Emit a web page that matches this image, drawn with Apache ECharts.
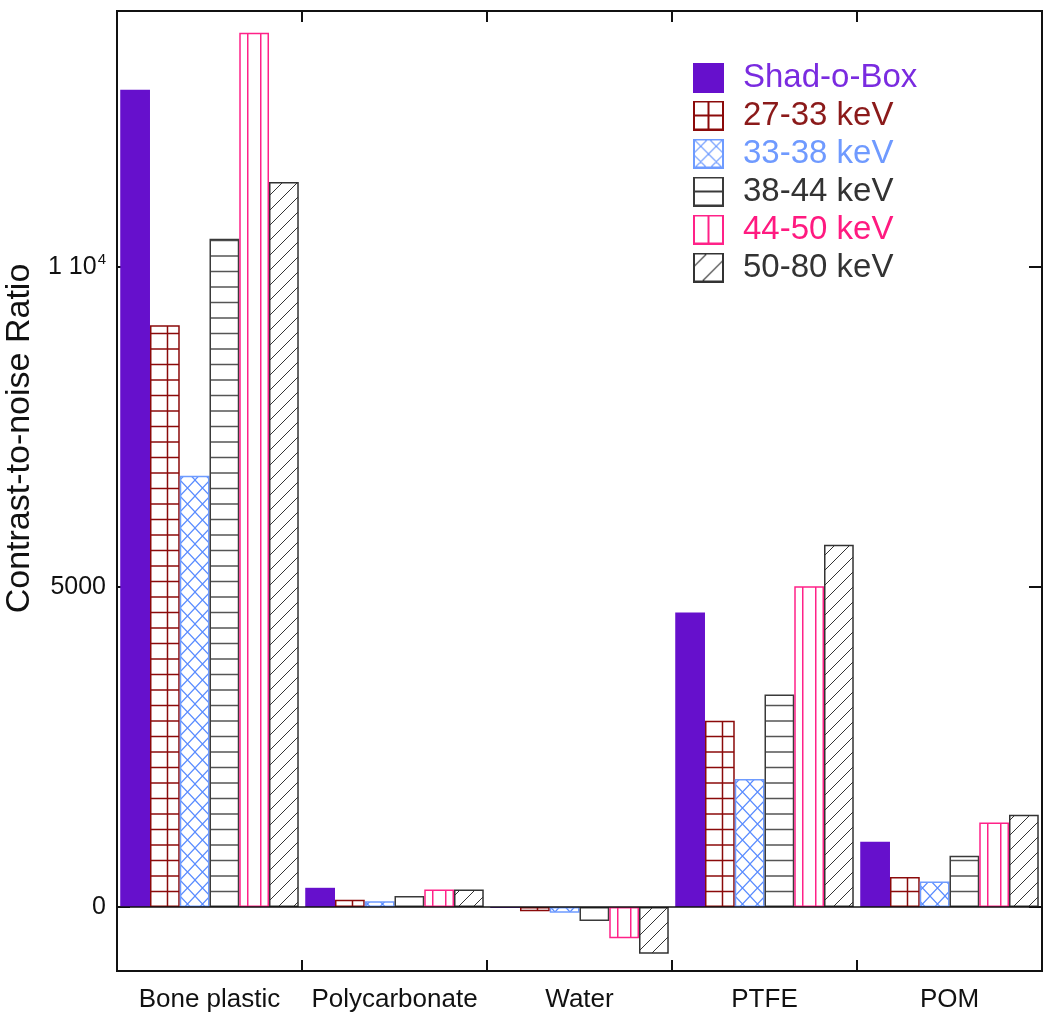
<!DOCTYPE html>
<html>
<head>
<meta charset="utf-8">
<script src="https://cdn.jsdelivr.net/npm/echarts@6/dist/echarts.min.js"></script>
<style>
  html, body { margin: 0; padding: 0; background: #fff; }
  #main { width: 1050px; height: 1026px; }
</style>
</head>
<body>
<div id="main"></div>
<script>
// data
const materials = ['Bone plastic', 'Polycarbonate', 'Water', 'PTFE', 'POM'];
const seriesNames = ['Shad-o-Box', '27-33 keV', '33-38 keV', '38-44 keV', '44-50 keV', '50-80 keV'];
const shadOBox = [12770, 300, -15, 4600, 1020];
const kev27_33 = [9090, 115, -65, 2910, 470];
const kev33_38 = [6740, 90, -90, 2000, 400];
const kev38_44 = [10440, 170, -220, 3320, 800];
const kev44_50 = [13660, 275, -490, 5010, 1320];
const kev50_80 = [11330, 275, -730, 5660, 1440];
const yTicks = [0, 5000, 10000];

// layout
const FONT = '"Liberation Sans", Arial, sans-serif';
const GRID_LEFT = 117, GRID_TOP = 11, GRID_W = 925, GRID_H = 960;
const Y_MIN = -1000, Y_MAX = 14000;
const CAT_W = GRID_W / materials.length;
const CAT_GAP = 0.035;
const BAR_W = CAT_W * (1 - CAT_GAP) / seriesNames.length;
const ZERO_Y = GRID_TOP + GRID_H * Y_MAX / (Y_MAX - Y_MIN);
const LINE_PERIOD = 15.5;

const colors = ['#6610cc', '#8b0a0a', '#6e9bff', '#3a3a3a', '#ff2288', '#333333'];
const textColors = ['#7a2be0', '#8b1a1a', '#6f9aff', '#333333', '#ff1a80', '#333333'];

// left edge of bar i, inside the first category (mod category width)
function barLeft(i) {
    return (GRID_LEFT + CAT_W * CAT_GAP / 2 + i * BAR_W) % CAT_W;
}

function makeCanvas(w, h, draw) {
    const c = document.createElement('canvas');
    c.width = w; c.height = h;
    const ctx = c.getContext('2d');
    draw(ctx, w, h);
    return c;
}

function vline(ctx, x, h) {
    ctx.beginPath(); ctx.moveTo(x, 0); ctx.lineTo(x, h); ctx.stroke();
}
function hline(ctx, y, w) {
    ctx.beginPath(); ctx.moveTo(0, y); ctx.lineTo(w, y); ctx.stroke();
}

// fill patterns (anchored to the chart origin)
const hOffset = ZERO_Y % (2 * LINE_PERIOD);
const gridPattern = makeCanvas(Math.round(CAT_W), 31, (ctx, w, h) => {
    ctx.strokeStyle = colors[1]; ctx.lineWidth = 1.5;
    const x = (barLeft(1) + 17.5) % CAT_W;
    vline(ctx, x, h);
    hline(ctx, hOffset, w);
    hline(ctx, (hOffset + LINE_PERIOD) % h, w);
});
const crossPattern = makeCanvas(15, 16, (ctx, w, h) => {
    ctx.strokeStyle = '#5a8cff'; ctx.lineWidth = 1.2;
    ctx.beginPath();
    ctx.moveTo(0, 0); ctx.lineTo(w, h);
    ctx.moveTo(w, 0); ctx.lineTo(0, h);
    ctx.stroke();
});
const hPattern = makeCanvas(8, 31, (ctx, w, h) => {
    ctx.strokeStyle = '#555'; ctx.lineWidth = 1.5;
    hline(ctx, hOffset, w);
    hline(ctx, (hOffset + LINE_PERIOD) % h, w);
});
const vPattern = makeCanvas(Math.round(CAT_W), 4, (ctx, w, h) => {
    ctx.strokeStyle = colors[4]; ctx.lineWidth = 1.5;
    vline(ctx, (barLeft(4) + 8.5) % CAT_W, h);
    vline(ctx, (barLeft(4) + 21.5) % CAT_W, h);
});
const hatchPattern = makeCanvas(15, 15, (ctx, w, h) => {
    ctx.strokeStyle = '#333'; ctx.lineWidth = 1;
    ctx.beginPath();
    ctx.moveTo(-1, h + 1); ctx.lineTo(w + 1, -1);
    ctx.moveTo(-2, 1); ctx.lineTo(1, -2);
    ctx.moveTo(w - 1, h + 2); ctx.lineTo(w + 2, h - 1);
    ctx.stroke();
});

const fills = [
    colors[0],
    { image: gridPattern, repeat: 'repeat' },
    { image: crossPattern, repeat: 'repeat' },
    { image: hPattern, repeat: 'repeat' },
    { image: vPattern, repeat: 'repeat' },
    { image: hatchPattern, repeat: 'repeat' }
];

// legend icons
const ICON_W = 45;
function legendIcon(i) {
    return makeCanvas(ICON_W, 30, (ctx) => {
        const w = 31, h = 30;
        if (i === 0) {
            ctx.fillStyle = colors[0];
            ctx.fillRect(0, 0, w, h);
            return;
        }
        ctx.strokeStyle = i === 5 ? '#333' : colors[i];
        ctx.lineWidth = 2;
        ctx.save();
        ctx.beginPath(); ctx.rect(1, 1, w - 2, h - 2); ctx.clip();
        ctx.beginPath();
        if (i === 1) {
            ctx.moveTo(w / 2, 0); ctx.lineTo(w / 2, h);
            ctx.moveTo(0, h / 2); ctx.lineTo(w, h / 2);
        } else if (i === 2) {
            ctx.lineWidth = 1.2;
            for (let k = -2; k <= 4; k++) {
                ctx.moveTo(k * 15.5, 0); ctx.lineTo(k * 15.5 + h, h);
                ctx.moveTo(k * 15.5, 0); ctx.lineTo(k * 15.5 - h, h);
            }
        } else if (i === 3) {
            ctx.moveTo(0, h / 2); ctx.lineTo(w, h / 2);
        } else if (i === 4) {
            ctx.moveTo(w / 2, 0); ctx.lineTo(w / 2, h);
        } else {
            ctx.lineWidth = 1.2;
            ctx.moveTo(0, 15); ctx.lineTo(15, 0);
            ctx.moveTo(6, 32); ctx.lineTo(38, 0);
        }
        ctx.stroke();
        ctx.restore();
        ctx.lineWidth = 2;
        ctx.strokeRect(1, 1, w - 2, h - 2);
    }).toDataURL();
}

const values = [shadOBox, kev27_33, kev33_38, kev38_44, kev44_50, kev50_80];
const frameLine = { show: true, onZero: false, lineStyle: { color: '#111', width: 2 } };
const tickStyle = { color: '#111', width: 2 };

const series = seriesNames.map((name, i) => ({
    name: name,
    type: 'bar',
    data: values[i],
    barGap: '0%',
    barCategoryGap: (CAT_GAP * 100) + '%',
    itemStyle: {
        color: fills[i],
        borderColor: i === 0 ? colors[0] : (i === 5 ? '#333' : colors[i]),
        borderWidth: i === 0 ? 0 : 1.5
    },
    emphasis: { disabled: true },
    markLine: i === 5 ? {
        silent: true,
        symbol: ['none', 'none'],
        label: { show: false },
        lineStyle: { color: '#111', width: 1.5, type: 'solid' },
        data: [{ yAxis: 0 }]
    } : undefined
}));

const option = {
    animation: false,
    backgroundColor: '#fff',
    textStyle: { fontFamily: FONT },
    grid: {
        left: GRID_LEFT, top: GRID_TOP, width: GRID_W, height: GRID_H,
        outerBoundsMode: 'none', containLabel: false,
        show: true, borderColor: '#111', borderWidth: 2, backgroundColor: 'transparent'
    },
    legend: {
        orient: 'vertical',
        left: 688,
        top: 56,
        itemWidth: ICON_W,
        itemHeight: 30,
        itemGap: 5,
        textStyle: { fontSize: 33, lineHeight: 30, fontFamily: FONT },
        data: seriesNames.map((name, i) => ({
            name: name,
            icon: 'image://' + legendIcon(i),
            textStyle: { color: textColors[i] }
        }))
    },
    xAxis: [
        {
            type: 'category', data: materials, position: 'bottom',
            axisLine: frameLine,
            axisTick: { show: true, interval: 0, inside: true, length: 11, lineStyle: tickStyle },
            axisLabel: { interval: 0, margin: 16, fontSize: 26, color: '#111' }
        },
        {
            type: 'category', data: materials, position: 'top',
            axisLine: frameLine,
            axisTick: { show: true, interval: 0, inside: true, length: 11, lineStyle: tickStyle },
            axisLabel: { show: false }
        }
    ],
    yAxis: [
        {
            type: 'value', min: Y_MIN, max: Y_MAX, position: 'left',
            splitLine: { show: false },
            axisLine: frameLine,
            axisTick: { show: true, inside: true, length: 13, customValues: yTicks, lineStyle: tickStyle },
            axisLabel: {
                customValues: yTicks, margin: 11, fontSize: 25, color: '#111',
                formatter: v => v === 10000 ? '{a|1 10}{s|4}' : String(v),
                rich: {
                    a: { fontSize: 25, color: '#111' },
                    s: { fontSize: 15, color: '#111', verticalAlign: 'top', padding: [0, 0, 14, 1] }
                }
            },
            name: 'Contrast-to-noise Ratio',
            nameLocation: 'middle',
            nameGap: 79,
            nameTextStyle: { fontSize: 34, color: '#111', padding: [0, 0, 0, 105] }
        },
        {
            type: 'value', min: Y_MIN, max: Y_MAX, position: 'right',
            splitLine: { show: false },
            axisLine: frameLine,
            axisTick: { show: true, inside: true, length: 13, customValues: yTicks, lineStyle: tickStyle },
            axisLabel: { show: false }
        }
    ],
    series: series
};

const chart = echarts.init(document.getElementById('main'));
chart.setOption(option);
</script>
</body>
</html>
